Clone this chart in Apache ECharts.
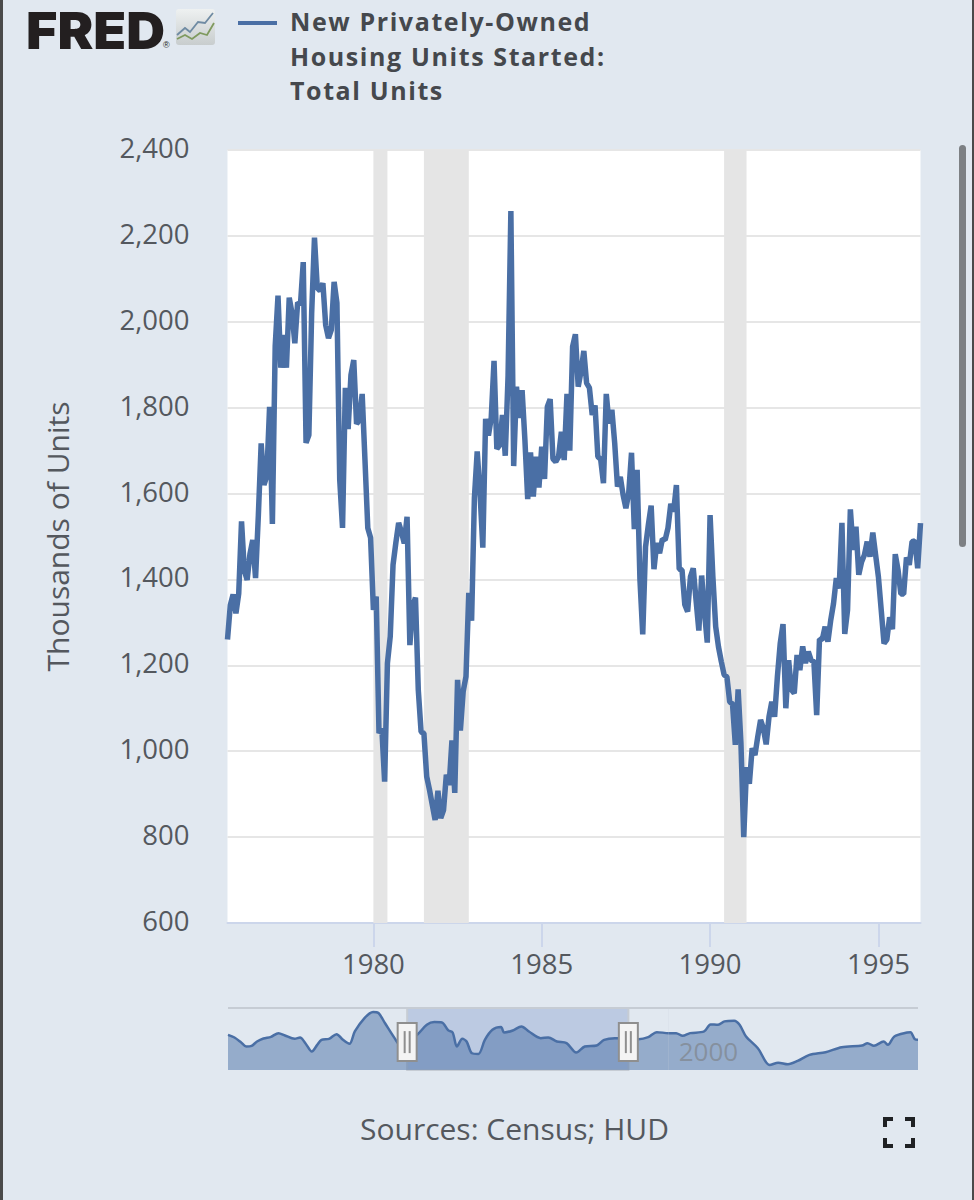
<!DOCTYPE html>
<html>
<head>
<meta charset="utf-8">
<title>New Privately-Owned Housing Units Started</title>
<script src="https://cdn.jsdelivr.net/npm/echarts@6/dist/echarts.min.js"></script>
<style>
  html, body { margin: 0; padding: 0; background: #e1e8f0; }
  #chart { width: 974px; height: 1200px; }
</style>
</head>
<body>
<div id="chart"></div>
<script>
const firstYear = 1975;
const firstMonth = 9;

// thousands of units, monthly, Sep 1975 to Apr 1996
const starts = [
  1260, 1340, 1365, 1321,
  1367, 1535, 1421, 1399, 1459, 1492, 1403, 1550, 1717, 1620, 1641, 1802,
  1529, 1943, 2061, 1893, 1969, 1893, 2056, 2020, 1950, 2045, 2040, 2139,
  1718, 1736, 2020, 2196, 2079, 2072, 2090, 1992, 1962, 1981, 2093, 2044,
  1632, 1520, 1846, 1750, 1876, 1911, 1762, 1771, 1832, 1678, 1520, 1497,
  1329, 1360, 1042, 1054, 929, 1205, 1267, 1434, 1485, 1532, 1511, 1484,
  1546, 1247, 1338, 1358, 1143, 1045, 1042, 941, 910, 875, 840, 908,
  844, 863, 945, 921, 1025, 903, 1166, 1048, 1139, 1174, 1369, 1304,
  1590, 1698, 1603, 1474, 1774, 1735, 1776, 1909, 1704, 1713, 1783, 1688,
  1874, 2258, 1664, 1849, 1776, 1841, 1725, 1587, 1696, 1593, 1686, 1614,
  1709, 1634, 1802, 1820, 1681, 1674, 1686, 1744, 1678, 1832, 1700, 1942,
  1971, 1849, 1884, 1932, 1857, 1846, 1783, 1805, 1686, 1680, 1624, 1832,
  1763, 1795, 1718, 1616, 1639, 1597, 1566, 1601, 1695, 1517, 1655, 1400,
  1272, 1476, 1527, 1572, 1424, 1485, 1461, 1494, 1492, 1520, 1576, 1558,
  1620, 1424, 1422, 1341, 1325, 1406, 1426, 1352, 1281, 1409, 1325, 1253,
  1550, 1406, 1290, 1243, 1209, 1178, 1173, 1115, 1110, 1015, 1144, 1019,
  800, 963, 924, 1007, 991, 1034, 1073, 1053, 1016, 1080, 1115, 1080,
  1174, 1251, 1296, 1100, 1212, 1143, 1135, 1224, 1189, 1244, 1205, 1232,
  1212, 1209, 1084, 1261, 1260, 1290, 1255, 1305, 1344, 1403, 1379, 1532,
  1273, 1329, 1563, 1469, 1523, 1411, 1441, 1457, 1488, 1453, 1509, 1457,
  1406, 1329, 1251, 1260, 1312, 1284, 1459, 1422, 1366, 1366, 1451, 1434,
  1488, 1490, 1426, 1531
];

const recessions = [
  ['1980-01', '1980-06'],
  ['1981-07', '1982-11'],
  ['1990-06', '1991-02']
];

const yMin = 600;
const yMax = 2400;
const yStep = 200;
const yearTicks = [1980, 1985, 1990, 1995];

// navigator, whole history: year, thousands of units
const navYears = [
  1959.0, 1959.6, 1960.2, 1960.7, 1961.2, 1961.7, 1962.3, 1963.0, 1963.7, 1964.3,
  1965.2, 1965.7, 1966.2, 1966.8, 1967.3, 1967.7, 1968.4, 1969.1, 1969.7, 1970.3,
  1970.8, 1971.7, 1972.5, 1973.0, 1973.6, 1974.5, 1975.0, 1975.6, 1976.6, 1977.5,
  1978.2, 1978.9, 1979.5, 1979.9, 1980.3, 1980.8, 1981.2, 1981.7, 1982.3, 1982.9,
  1983.6, 1984.4, 1984.7, 1985.5, 1986.3, 1987.0, 1988.1, 1988.8, 1989.6, 1990.5,
  1991.4, 1992.2, 1993.3, 1994.0, 1995.0, 1996.1, 1997.2, 1998.1, 1998.9, 2000.0,
  2000.7, 2001.3, 2002.0, 2003.3, 2003.9, 2004.6, 2005.2, 2006.1, 2006.6, 2007.2,
  2008.3, 2009.4, 2010.2, 2011.1, 2012.0, 2013.1, 2014.6, 2016.1, 2018.0, 2018.5,
  2019.1, 2020.0, 2020.4, 2021.0, 2022.2, 2022.5, 2022.9, 2023.2
];
const navValues = [
  1582, 1486, 1317, 1161, 1185, 1341, 1450, 1510, 1642, 1558,
  1438, 1486, 1281, 981, 1221, 1402, 1438, 1606, 1402, 1257,
  1702, 2183, 2400, 2364, 2004, 1462, 1221, 1341, 1582, 1943,
  2039, 2027, 1738, 1666, 1161, 1438, 1341, 920, 896, 1402,
  1762, 1859, 1666, 1738, 1883, 1702, 1462, 1486, 1341, 1281,
  944, 1161, 1197, 1402, 1462, 1462, 1426, 1498, 1678, 1642,
  1642, 1546, 1642, 1702, 1955, 1943, 2063, 2087, 1943, 1522,
  1101, 499, 583, 523, 644, 860, 956, 1137, 1197, 1281,
  1185, 1341, 1221, 1522, 1666, 1678, 1426, 1402
];
const navRange = [1975.67, 1996.25];
const navTicks = [2000];

const legendLines = ['New Privately-Owned', 'Housing Units Started:', 'Total Units'];
const sourceText = 'Sources: Census; HUD';

const fontFamily = '"Open Sans", sans-serif';
const lineColor = '#4a6fa5';
const textColor = '#54585e';

const months = starts.map((v, i) => {
  const m = firstMonth - 1 + i;
  const year = firstYear + Math.floor(m / 12);
  return year + '-' + String(m % 12 + 1).padStart(2, '0');
});

const isYearTick = (index) => yearTicks.some((y) => months[index] === y + '-01');

const chart = echarts.init(document.getElementById('chart'), null, { renderer: 'svg' });

// zrender has no letter spacing option, set it on the svg text once drawn
chart.on('finished', () => {
  chart.getDom().querySelectorAll('text').forEach((node) => {
    if (legendLines.includes(node.textContent)) {
      node.style.letterSpacing = '1.6px';
    }
  });
});

chart.setOption({
  backgroundColor: '#e1e8f0',
  animation: false,
  textStyle: { fontFamily },
  title: [
    {
      text: legendLines.join('\n'),
      left: 285,
      top: -1,
      textStyle: {
        fontFamily,
        fontSize: 25,
        fontWeight: 'bold',
        lineHeight: 34.5,
        color: '#45484d'
      }
    },
    {
      text: sourceText,
      left: 355,
      top: 1108,
      textStyle: {
        fontFamily,
        fontSize: 30,
        fontWeight: 'normal',
        color: textColor
      }
    }
  ],
  grid: [
    { left: 227.5, top: 150, width: 693, height: 773, backgroundColor: '#fff', show: true, borderWidth: 0 },
    { left: 228, top: 1008, width: 690, height: 62, borderWidth: 0 }
  ],
  xAxis: [
    {
      type: 'category',
      gridIndex: 0,
      data: months,
      boundaryGap: false,
      axisLine: { lineStyle: { color: '#ccd6eb', width: 2 } },
      axisTick: {
        length: 24,
        interval: isYearTick,
        lineStyle: { color: '#ccd6eb', width: 2 }
      },
      axisLabel: {
        interval: isYearTick,
        formatter: (value) => value.slice(0, 4),
        fontFamily,
        fontSize: 27.5,
        color: textColor,
        margin: 26
      },
      splitLine: { show: false }
    },
    {
      type: 'value',
      gridIndex: 1,
      min: navYears[0],
      max: navYears[navYears.length - 1],
      z: 6,
      axisLine: { show: false },
      axisTick: { show: false },
      splitLine: { show: false },
      axisLabel: {
        customValues: navTicks,
        formatter: (value) => String(value),
        inside: true,
        margin: 6,
        align: 'left',
        padding: [0, 0, 0, 10],
        fontFamily,
        fontSize: 26,
        color: 'rgba(120,120,120,0.55)'
      }
    }
  ],
  yAxis: [
    {
      type: 'value',
      gridIndex: 0,
      min: yMin,
      max: yMax,
      interval: yStep,
      name: 'Thousands of Units',
      nameLocation: 'middle',
      nameGap: 155,
      nameRotate: 90,
      nameTextStyle: { fontFamily, fontSize: 30, color: textColor },
      axisLine: { show: false },
      axisTick: { show: false },
      axisLabel: {
        formatter: (value) => value.toLocaleString('en-US'),
        fontFamily,
        fontSize: 27.5,
        color: textColor,
        margin: 38,
        verticalAlign: 'bottom',
        lineHeight: 5
      },
      splitLine: { lineStyle: { color: '#e6e6e6', width: 2 } }
    },
    {
      type: 'value',
      gridIndex: 1,
      min: 319,
      max: 2544,
      show: false
    }
  ],
  series: [
    {
      type: 'line',
      name: 'Housing starts',
      xAxisIndex: 0,
      yAxisIndex: 0,
      data: starts,
      showSymbol: false,
      symbol: 'none',
      lineStyle: { color: lineColor, width: 5.5, join: 'bevel', cap: 'butt' },
      markArea: {
        silent: true,
        itemStyle: { color: '#e5e5e5' },
        data: recessions.map(([from, to]) => [{ xAxis: from }, { xAxis: to }])
      }
    },
    {
      type: 'line',
      name: 'Navigator',
      xAxisIndex: 1,
      yAxisIndex: 1,
      data: navYears.map((year, i) => [year, navValues[i]]),
      showSymbol: false,
      symbol: 'none',
      smooth: 0.3,
      lineStyle: { color: lineColor, width: 2.5 },
      areaStyle: { color: lineColor, opacity: 0.5 },
      markArea: {
        silent: true,
        itemStyle: { color: 'rgba(102,133,194,0.3)', borderColor: '#c6ccd4', borderWidth: 2 },
        data: [[{ xAxis: navRange[0] }, { xAxis: navRange[1] }]]
      },
      markLine: {
        silent: true,
        symbol: 'none',
        label: { show: false },
        data: [
          { yAxis: 2544, lineStyle: { color: '#c6ccd4', width: 2, type: 'solid' } },
          { xAxis: navTicks[0], lineStyle: { color: 'rgba(200,208,220,0.2)', width: 1, type: 'solid' } }
        ]
      }
    },
    {
      type: 'custom',
      name: 'Navigator handles',
      xAxisIndex: 1,
      yAxisIndex: 1,
      z: 8,
      silent: true,
      data: navRange.map((year) => [year, 1320]),
      renderItem: (params, api) => {
        const [x, y] = api.coord([api.value(0), api.value(1)]);
        return {
          type: 'group',
          children: [
            {
              type: 'rect',
              shape: { x: x - 9.5, y: y - 19, width: 19, height: 38 },
              style: { fill: '#f4f4f4', stroke: '#8f8f8f', lineWidth: 2 }
            },
            {
              type: 'line',
              shape: { x1: x - 2.5, y1: y - 11, x2: x - 2.5, y2: y + 11 },
              style: { stroke: '#8f8f8f', lineWidth: 2 }
            },
            {
              type: 'line',
              shape: { x1: x + 2.5, y1: y - 11, x2: x + 2.5, y2: y + 11 },
              style: { stroke: '#8f8f8f', lineWidth: 2 }
            }
          ]
        };
      }
    }
  ],
  graphic: [
    // window edges and page scrollbar of the screenshot
    { type: 'rect', shape: { x: 0, y: 0, width: 3, height: 1200 }, style: { fill: '#4a4a4a' } },
    { type: 'rect', shape: { x: 972, y: 0, width: 2, height: 1200 }, style: { fill: '#4a4a4a' } },
    { type: 'rect', shape: { x: 959, y: 145, width: 7, height: 402, r: 3.5 }, style: { fill: '#7d8084' } },
    // logo
    {
      type: 'text',
      x: 26,
      y: 5,
      scaleX: 1.12,
      scaleY: 1.06,
      style: {
        text: 'FRED',
        font: '900 48px Inter, sans-serif',
        fill: '#231f20'
      }
    },
    {
      type: 'text',
      style: { x: 163, y: 40, text: '®', font: '9px "Liberation Sans", sans-serif', fill: '#231f20' }
    },
    {
      type: 'rect',
      shape: { x: 176, y: 9, width: 39, height: 36, r: 3 },
      style: {
        fill: new echarts.graphic.LinearGradient(0, 0, 0, 1, [
          { offset: 0, color: '#eef1f1' },
          { offset: 1, color: '#c8cdce' }
        ])
      }
    },
    {
      type: 'polyline',
      shape: { points: [[177, 35], [185, 28], [190, 32], [198, 22], [205, 23], [213, 13]] },
      style: { stroke: '#6f8ba3', lineWidth: 1.8, fill: null }
    },
    {
      type: 'polyline',
      shape: { points: [[177, 39], [185, 35], [192, 39], [200, 33], [207, 35], [214, 23]] },
      style: { stroke: '#7f9a5f', lineWidth: 1.8, fill: null }
    },
    // legend swatch
    { type: 'rect', shape: { x: 238, y: 21, width: 39, height: 4 }, style: { fill: lineColor } },
    // fullscreen button
    ...[
      [[885, 1127], [885, 1119], [893, 1119]],
      [[905, 1119], [913, 1119], [913, 1127]],
      [[885, 1138], [885, 1146], [893, 1146]],
      [[905, 1146], [913, 1146], [913, 1138]]
    ].map((points) => ({
      type: 'polyline',
      shape: { points },
      style: { stroke: '#1f2124', lineWidth: 4, fill: null }
    }))
  ]
});
</script>
</body>
</html>
